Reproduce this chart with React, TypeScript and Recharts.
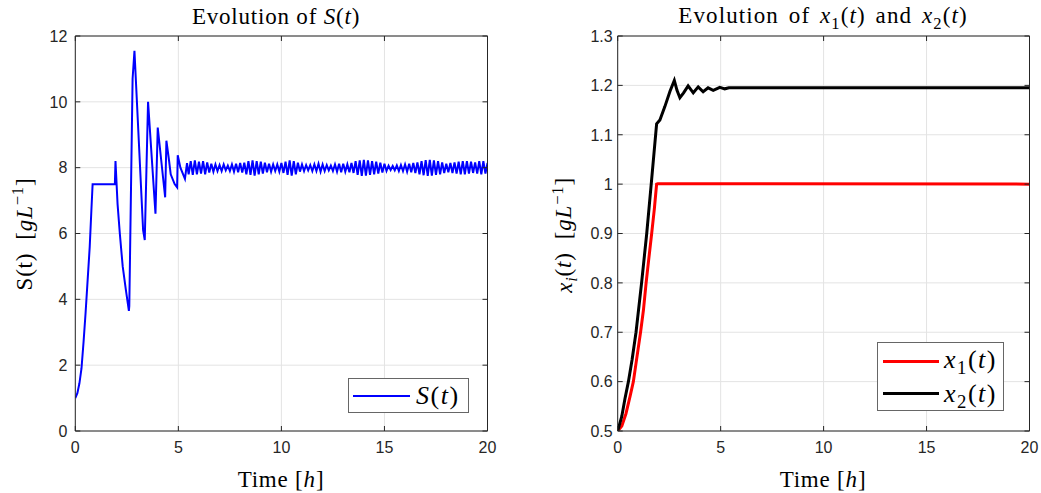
import React from "react";
import { LineChart, Line, XAxis, YAxis, CartesianGrid } from "recharts";

// axis ticks
const timeTicks = [0, 5, 10, 15, 20];
const sTicks = [0, 2, 4, 6, 8, 10, 12];
const xiTicks = [0.5, 0.6, 0.7, 0.8, 0.9, 1, 1.1, 1.2, 1.3];

// S(t): start-up transient
const sHeadTime = [
  0, 0.1, 0.2, 0.3, 0.4, 0.5, 0.6, 0.7, 0.78, 0.84, 1.92, 1.95, 2.05, 2.16, 2.3,
  2.45, 2.6, 2.62, 2.78, 2.87, 3.29, 3.37, 3.45, 3.53, 3.89, 4.0, 4.36, 4.42,
  4.55, 4.63, 4.82, 4.94, 4.97, 5.1, 5.32, 5.42,
];
const sHeadValue = [
  1.0, 1.15, 1.45, 1.9, 2.7, 3.6, 4.6, 5.6, 6.7, 7.5, 7.5, 8.2, 6.9, 6.0, 5.0,
  4.3, 3.65, 3.8, 10.7, 11.55, 6.1, 5.8, 7.9, 10.0, 6.6, 9.22, 7.1, 8.82,
  8.21, 7.8, 7.5, 7.4, 8.38, 8.0, 7.66, 8.14,
];

// S(t): small oscillation around 8, one sample every 0.1 h from 5.5 h
const sTailStart = 5.5;
const sTailStep = 0.1;
const sTailValue = [
  7.8, 8.2, 7.78, 8.22, 7.8,
  8.18, 7.82, 8.2, 7.8, 8.16, 7.85, 8.12, 7.88, 8.1, 7.9,
  8.08, 7.9, 8.1, 7.92, 8.06, 7.9, 8.1, 7.88, 8.12, 7.86,
  8.14, 7.85, 8.15, 7.8, 8.2, 7.78, 8.22, 7.76, 8.2, 7.8,
  8.18, 7.82, 8.15, 7.86, 8.12, 7.88, 8.1, 7.9, 8.1, 7.88,
  8.14, 7.84, 8.18, 7.78, 8.22, 7.76, 8.2, 7.8, 8.15, 7.88,
  8.1, 7.9, 8.08, 7.92, 8.08, 7.9, 8.1, 7.9, 8.12, 7.88,
  8.1, 7.9, 8.08, 7.92, 8.06, 7.9, 8.1, 7.88, 8.12, 7.86,
  8.12, 7.88, 8.1, 7.86, 8.14, 7.84, 8.2, 7.78, 8.22, 7.75,
  8.24, 7.76, 8.22, 7.78, 8.2, 7.8, 8.18, 7.82, 8.15, 7.85,
  8.12, 7.9, 8.06, 7.93, 8.05, 7.92, 8.07, 7.9, 8.08, 7.9,
  8.1, 7.88, 8.12, 7.86, 8.14, 7.84, 8.16, 7.8, 8.2, 7.77,
  8.23, 7.75, 8.24, 7.76, 8.22, 7.78, 8.2, 7.8, 8.16, 7.84,
  8.12, 7.86, 8.14, 7.84, 8.16, 7.82, 8.18, 7.8, 8.2, 7.8,
  8.2, 7.82, 8.18, 7.84, 8.16, 7.82, 8.2, 7.8, 8.2, 7.82,
  8.14,
];

// x1(t) and x2(t)
const x1Time = [0, 0.2, 0.4, 0.6, 0.76, 0.9, 1.11, 1.25, 1.38, 1.5, 1.65, 1.78, 1.89, 1.95, 20];
const x1Value = [0.5, 0.51, 0.535, 0.57, 0.6, 0.64, 0.7, 0.745, 0.8, 0.845, 0.9, 0.95, 1.0, 1.001, 1.0];

const x2Time = [
  0, 0.2, 0.35, 0.52, 0.7, 0.89, 1.16, 1.41, 1.65, 1.89, 2.05, 2.29, 2.54, 2.75,
  2.88, 3.02, 3.2, 3.42, 3.67, 3.91, 4.15, 4.39, 4.64, 4.96, 5.2, 5.4, 20,
];
const x2Value = [
  0.5, 0.53, 0.565, 0.6, 0.645, 0.7, 0.8, 0.9, 1.01, 1.122, 1.13, 1.157, 1.188, 1.21,
  1.19, 1.175, 1.185, 1.199, 1.185, 1.197, 1.187, 1.195, 1.19, 1.196, 1.193, 1.195, 1.195,
];

const sData = [
  ...sHeadTime.map((t, i) => ({ t, s: sHeadValue[i] })),
  ...sTailValue.map((s, i) => ({ t: +(sTailStart + i * sTailStep).toFixed(2), s })),
];
const x1Data = x1Time.map((t, i) => ({ t, v: x1Value[i] }));
const x2Data = x2Time.map((t, i) => ({ t, v: x2Value[i] }));

const AXIS = "#262626";
const GRID = "#e3e3e3";
const SANS = "'Liberation Sans', Arial, Helvetica, sans-serif";
const SERIF = "'Liberation Serif', 'Times New Roman', serif";
const TICK = 5;

const BottomTick = (props: any) => {
  const { x, y, payload } = props;
  return (
    <g>
      <line x1={x} x2={x} y1={y} y2={y - TICK} stroke={AXIS} />
      <text x={x} y={y + 22} textAnchor="middle" fontFamily={SANS} fontSize={16} fill={AXIS}>
        {String(payload.value)}
      </text>
    </g>
  );
};

const TopTick = (props: any) => {
  const { x, y } = props;
  return <line x1={x} x2={x} y1={y} y2={y + TICK} stroke={AXIS} />;
};

const makeLeftTick = (gap: number) => (props: any) => {
  const { x, y, payload } = props;
  return (
    <g>
      <line x1={x} x2={x + TICK} y1={y} y2={y} stroke={AXIS} />
      <text x={x - gap} y={y} dy="0.36em" textAnchor="end" fontFamily={SANS} fontSize={16} fill={AXIS}>
        {String(payload.value)}
      </text>
    </g>
  );
};

const RightTick = (props: any) => {
  const { x, y } = props;
  return <line x1={x} x2={x - TICK} y1={y} y2={y} stroke={AXIS} />;
};

const LeftTickS = makeLeftTick(8);
const LeftTickX = makeLeftTick(5);

const abs = (left: number, top: number): React.CSSProperties => ({
  position: "absolute",
  left,
  top,
  whiteSpace: "nowrap",
  lineHeight: 1,
  color: "#000",
});

const label: React.CSSProperties = { fontFamily: SERIF, fontSize: 23, letterSpacing: 0.8 };
const legendText: React.CSSProperties = { fontFamily: SERIF, fontSize: 26, letterSpacing: 1.5 };
const sub: React.CSSProperties = { fontSize: "0.72em" };

// axes are 1px thick so that recharts draws them; margins are 1px smaller to compensate
const axes = (yDomain: number[], yTicks: number[], leftTick: any) => [
  <CartesianGrid key="g" xAxisId="b" yAxisId="l" stroke={GRID} horizontalValues={yTicks} verticalValues={timeTicks} />,
  <XAxis key="xb" xAxisId="b" dataKey="t" type="number" domain={[0, 20]} ticks={timeTicks} interval={0}
    height={1} tickSize={0} tickMargin={0} tickLine={false} axisLine={{ stroke: AXIS }} tick={BottomTick} allowDataOverflow />,
  <XAxis key="xt" xAxisId="t" orientation="top" dataKey="t" type="number" domain={[0, 20]} ticks={timeTicks} interval={0}
    height={1} tickSize={0} tickMargin={0} tickLine={false} axisLine={{ stroke: AXIS }} tick={TopTick} allowDataOverflow />,
  <YAxis key="yl" yAxisId="l" type="number" domain={yDomain} ticks={yTicks} interval={0}
    width={1} tickSize={0} tickMargin={0} tickLine={false} axisLine={{ stroke: AXIS }} tick={leftTick} allowDataOverflow />,
  <YAxis key="yr" yAxisId="r" orientation="right" type="number" domain={yDomain} ticks={yTicks} interval={0}
    width={1} tickSize={0} tickMargin={0} tickLine={false} axisLine={{ stroke: AXIS }} tick={RightTick} allowDataOverflow />,
];

export default function App() {
  return (
    <div style={{ position: "absolute", left: 0, top: 0, width: 1041, height: 493, background: "#fff", overflow: "hidden" }}>
      <div style={{ position: "absolute", left: 0, top: 0 }}>
        <LineChart width={520} height={493} data={sData} margin={{ top: 35, right: 31.5, bottom: 61, left: 74.3 }}>
          {axes([0, 12], sTicks, LeftTickS)}
          <Line xAxisId="b" yAxisId="l" type="linear" dataKey="s" stroke="#0000ff" strokeWidth={2}
            dot={false} activeDot={false} isAnimationActive={false} />
        </LineChart>
      </div>
      <div style={{ position: "absolute", left: 520, top: 0 }}>
        <LineChart width={521} height={493} margin={{ top: 35, right: 10.5, bottom: 61, left: 96.7 }}>
          {axes([0.5, 1.3], xiTicks, LeftTickX)}
          <Line xAxisId="b" yAxisId="l" data={x1Data} type="linear" dataKey="v" stroke="#ff0000" strokeWidth={3}
            dot={false} activeDot={false} isAnimationActive={false} />
          <Line xAxisId="b" yAxisId="l" data={x2Data} type="linear" dataKey="v" stroke="#000000" strokeWidth={3}
            dot={false} activeDot={false} isAnimationActive={false} />
        </LineChart>
      </div>

      {/* titles */}
      <div style={{ ...abs(276, 5), ...label, transform: "translateX(-50%)" }}>
        Evolution of <i>S</i>(<i>t</i>)
      </div>
      <div style={{ ...abs(823, 4), ...label, letterSpacing: 1.1, wordSpacing: 3, transform: "translateX(-50%)" }}>
        Evolution of <i>x</i><sub style={sub}>1</sub>(<i>t</i>) and <i>x</i><sub style={sub}>2</sub>(<i>t</i>)
      </div>

      {/* x labels */}
      <div style={{ ...abs(281, 468), ...label, transform: "translateX(-50%)" }}>
        Time [<i>h</i>]
      </div>
      <div style={{ ...abs(823, 468), ...label, transform: "translateX(-50%)" }}>
        Time [<i>h</i>]
      </div>

      {/* y labels */}
      <div style={{ ...abs(23, 234), ...label, transform: "translate(-50%, -50%) rotate(-90deg)" }}>
        S(t)&nbsp;&nbsp;[<i>gL</i><sup style={sub}>−1</sup>]
      </div>
      <div style={{ ...abs(565, 235), ...label, transform: "translate(-50%, -50%) rotate(-90deg)" }}>
        <i>x<sub style={sub}>i</sub></i>(<i>t</i>)&nbsp;&nbsp;[<i>gL</i><sup style={sub}>−1</sup>]
      </div>

      {/* legend left */}
      <div style={{ position: "absolute", left: 348, top: 378, width: 121, height: 35, border: "1px solid #666", background: "#fff", boxSizing: "border-box" }}>
        <div style={{ position: "absolute", left: 4, top: 16, width: 57, height: 2, background: "#0000ff" }} />
        <div style={{ ...abs(67, 4), ...legendText }}>
          <i>S</i>(<i>t</i>)
        </div>
      </div>

      {/* legend right */}
      <div style={{ position: "absolute", left: 877, top: 342, width: 127, height: 69, border: "1px solid #666", background: "#fff", boxSizing: "border-box" }}>
        <div style={{ position: "absolute", left: 5, top: 17, width: 56, height: 3, background: "#ff0000" }} />
        <div style={{ ...abs(66, 4), ...legendText }}>
          <i>x</i><sub style={sub}>1</sub>(<i>t</i>)
        </div>
        <div style={{ position: "absolute", left: 5, top: 49, width: 56, height: 3, background: "#000" }} />
        <div style={{ ...abs(66, 38), ...legendText }}>
          <i>x</i><sub style={sub}>2</sub>(<i>t</i>)
        </div>
      </div>
    </div>
  );
}
